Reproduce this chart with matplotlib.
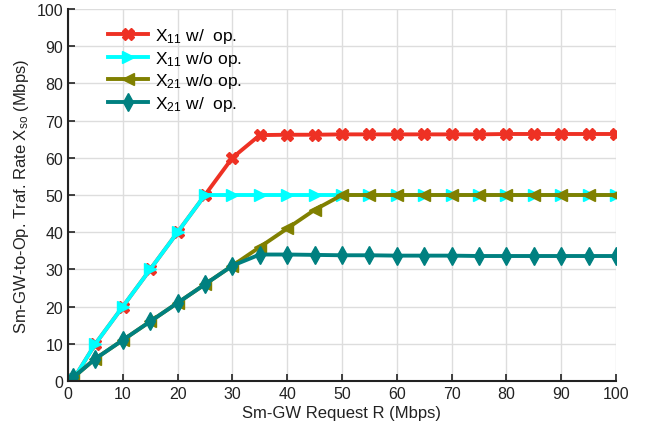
import matplotlib
matplotlib.use("Agg")
import matplotlib.pyplot as plt

R = [1, 5, 10, 15, 20, 25, 30, 35, 40, 45, 50, 55, 60, 65, 70, 75, 80, 85, 90, 95, 100]
x11_op = [0.5, 10, 20, 30, 40, 50, 60, 66.1, 66.2, 66.2, 66.3, 66.3, 66.3, 66.3, 66.3, 66.3, 66.4, 66.4, 66.4, 66.4, 66.4]
x11_noop = [0.5, 10, 20, 30, 40, 50, 50, 50, 50, 50, 50, 50, 50, 50, 50, 50, 50, 50, 50, 50, 50]
x21_noop = [1, 6, 11, 16, 21, 26, 31, 36, 41, 46, 50, 50, 50, 50, 50, 50, 50, 50, 50, 50, 50]
x21_op = [1, 6, 11, 16, 21, 26, 31, 34, 34, 33.9, 33.8, 33.8, 33.7, 33.7, 33.7, 33.6, 33.6, 33.6, 33.6, 33.6, 33.6]

labels = [r"X$_{11}$ w/  op.", r"X$_{11}$ w/o op.", r"X$_{21}$ w/o op.", r"X$_{21}$ w/  op."]

plt.rcParams['font.family'] = ['Liberation Sans', 'DejaVu Sans']
plt.rcParams['mathtext.fontset'] = 'custom'
plt.rcParams['mathtext.rm'] = 'Liberation Sans'
plt.rcParams['mathtext.it'] = 'Liberation Sans'

fig = plt.figure(figsize=(6.48, 4.35), dpi=100)
ax = fig.add_axes([68/648, 1 - 382/435, (616-68)/648, (382-10)/435])

lw = 2.8
ax.plot(R, x11_op, color='#EE3124', lw=lw, marker='X', ms=8, label=labels[0])
ax.plot(R, x11_noop, color='#00FFFF', lw=lw, marker='>', ms=9, label=labels[1])
ax.plot(R, x21_noop, color='#808000', lw=lw, marker='<', ms=9, label=labels[2])
ax.plot(R, x21_op, color='#008080', lw=lw, marker='d', ms=9, label=labels[3])

ax.set_xlim(0, 100)
ax.set_ylim(0, 100)
ax.set_xticks(range(0, 101, 10))
ax.set_yticks(range(0, 101, 10))
ax.grid(True, color='#DDDDDD', lw=1)
ax.set_axisbelow(True)
for s in ['top', 'right']:
    ax.spines[s].set_visible(False)
for s in ['left', 'bottom']:
    ax.spines[s].set_linewidth(1.5)
    ax.spines[s].set_color('#222222')
ax.tick_params(direction='in', labelsize=11.5, length=5, width=1.2, colors='#222222')
ax.set_xlabel('Sm-GW Request R (Mbps)', fontsize=12, color='#222222', labelpad=3)
ax.set_ylabel(r'Sm-GW-to-Op. Traf. Rate X$_{\rm so}$ (Mbps)', fontsize=12, color='#222222')

leg = ax.legend(loc='upper left', bbox_to_anchor=(0.045, 0.995), frameon=False, fontsize=12.5,
                handlelength=2.3, labelspacing=0.2, handletextpad=0.4)

fig.savefig('out.png', dpi=100)
